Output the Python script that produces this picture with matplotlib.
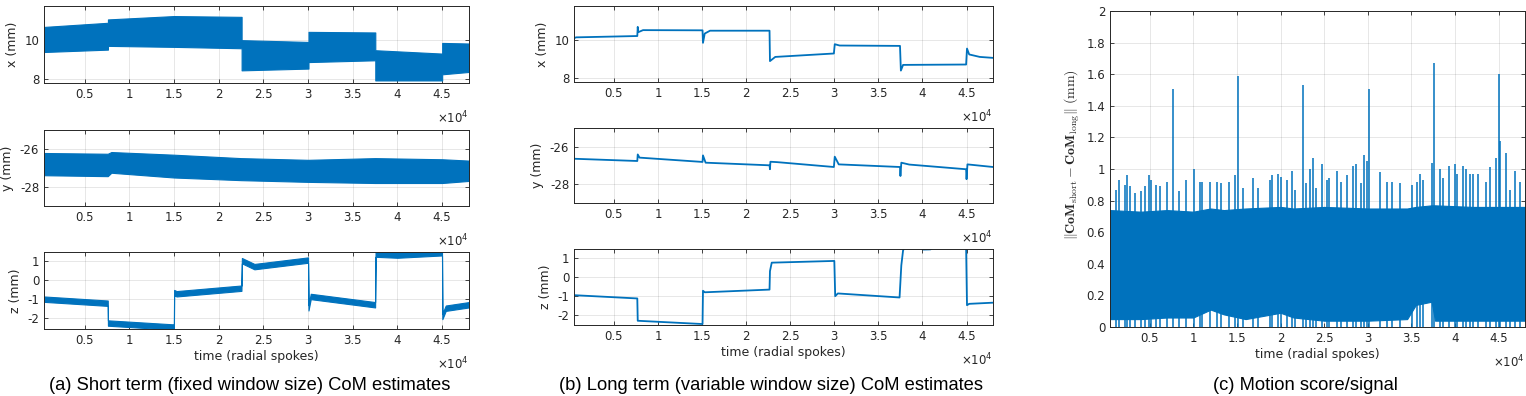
import matplotlib
matplotlib.use('Agg')
import matplotlib.pyplot as plt
from matplotlib.ticker import FuncFormatter

plt.rcParams['font.family'] = 'DejaVu Sans'
plt.rcParams['axes.unicode_minus'] = False

# ---------- data ----------
# (a) short term CoM estimates: noisy bands (upper / lower envelope)
xa_t  = [470, 7620, 7620, 15000, 22570, 22570, 30050, 30050, 37520, 37520, 45000, 45000, 48000]
xa_hi = [10.64, 10.85, 11.02, 11.19, 11.15, 9.97, 9.88, 10.39, 10.36, 9.46, 9.29, 9.83, 9.80]
xa_lo = [9.37, 9.49, 9.68, 9.63, 9.56, 8.44, 8.53, 8.86, 8.95, 7.93, 7.93, 8.24, 8.36]

ya_t  = [470, 7600, 8000, 15000, 22500, 30000, 37500, 45000, 48000]
ya_hi = [-26.21, -26.25, -26.16, -26.30, -26.48, -26.57, -26.48, -26.54, -26.61]
ya_lo = [-27.38, -27.43, -27.25, -27.50, -27.64, -27.73, -27.79, -27.79, -27.68]

za_t   = [470, 7600, 7620, 15000, 15020, 15300, 22550, 22600, 24000, 30000, 30050, 30300,
          37500, 37550, 40000, 44980, 45020, 45400, 48000]
za_mid = [-1.0, -1.21, -2.24, -2.45, -0.66, -0.72, -0.43, 1.0, 0.69, 1.03, -1.45, -0.86,
          -1.29, 1.34, 1.29, 1.41, -1.9, -1.47, -1.29]
za_amp = 0.14

# (b) long term CoM estimates
xb_t = [470, 700, 7650, 7700, 7750, 8300, 15050, 15100, 15300, 15900, 22650, 22700, 23300,
        29950, 30050, 30600, 37450, 37550, 37800, 44950, 45050, 45300, 46500, 48000]
xb_v = [10.10, 10.15, 10.22, 10.70, 10.42, 10.53, 10.52, 9.86, 10.35, 10.50, 10.50, 8.90, 9.12,
        9.30, 9.79, 9.72, 9.70, 8.40, 8.70, 8.72, 9.56, 9.25, 9.12, 9.07]

yb_t = [470, 7650, 7700, 7900, 15050, 15100, 15400, 22650, 22700, 22750, 23500, 29950, 30050,
        30500, 37450, 37500, 37600, 38500, 44950, 45000, 45100, 48000]
yb_v = [-26.64, -26.76, -26.41, -26.58, -26.81, -26.46, -26.85, -26.99, -27.2, -26.8, -26.82,
        -27.08, -26.53, -26.94, -27.08, -27.56, -26.85, -26.95, -27.2, -27.73, -26.94, -27.08]

zb_t = [470, 7650, 7700, 15050, 15100, 15300, 22650, 22700, 22900, 30000, 30100, 30400, 37400,
        37600, 37800, 38200, 39900, 40100, 40900, 41200, 44950, 45050, 45300, 48000]
zb_v = [-0.95, -1.12, -2.28, -2.45, -0.72, -0.80, -0.66, 0.3, 0.74, 0.83, -1.0, -0.86, -1.07,
        0.6, 1.38, 1.7, 1.5, 1.42, 1.43, 1.5, 1.55, -1.47, -1.40, -1.34]

# (c) motion score: dense band plus individual peaks
ms_t  = [470, 4000, 7000, 10000, 12000, 13500, 16000, 20000, 21500, 25000, 30000, 34500,
         35500, 37300, 37700, 42000, 48000]
ms_lo = [0.05, 0.05, 0.06, 0.06, 0.11, 0.08, 0.05, 0.09, 0.06, 0.04, 0.04, 0.05,
         0.14, 0.16, 0.04, 0.04, 0.04]
ms_hi = [0.74, 0.73, 0.74, 0.73, 0.75, 0.74, 0.75, 0.76, 0.75, 0.76, 0.75, 0.75,
         0.76, 0.77, 0.77, 0.76, 0.76]

peak_t = [1150, 1530, 2140, 2410, 2790, 3360, 4010, 4500, 4890, 5190, 5720, 6220, 6980, 7670,
          8320, 9190, 10110, 10800, 11060, 11940, 12700, 13200, 14150, 14800, 15140, 15680,
          16900, 17470, 18800, 19070, 19680, 20060, 20710, 21280, 21660, 22540, 22920, 23380,
          23680, 24070, 24710, 25290, 25550, 26430, 26930, 27650, 28260, 28640, 29210, 29600,
          29860, 30090, 31390, 32150, 32720, 33680, 35010, 35580, 35960, 36340, 37340, 37530,
          38250, 38560, 39280, 39970, 40230, 40920, 41230, 41680, 42060, 42640, 43590, 43970,
          44660, 45000, 45120, 45880, 46260, 46830, 47400]
peak_h = [0.87, 0.93, 0.90, 0.96, 0.89, 0.85, 0.86, 0.89, 0.96, 0.93, 0.90, 0.89, 0.92, 1.505,
          0.86, 0.93, 1.00, 0.92, 0.92, 0.92, 0.92, 0.91, 0.92, 0.96, 1.59, 0.88,
          0.94, 0.88, 0.93, 0.96, 0.97, 0.95, 0.93, 0.99, 0.87, 1.53, 0.91, 1.00,
          1.07, 0.88, 1.03, 0.93, 0.94, 0.99, 0.92, 0.96, 1.02, 1.03, 0.91, 1.09,
          1.05, 1.505, 0.98, 0.92, 0.92, 0.91, 0.90, 0.92, 0.97, 0.93, 1.04, 1.67,
          1.00, 0.94, 1.02, 1.03, 0.97, 1.02, 1.00, 0.97, 0.97, 0.97, 0.92, 1.01,
          1.07, 1.60, 1.18, 1.10, 0.87, 0.99, 0.92]

x_ticks = [5000, 10000, 15000, 20000, 25000, 30000, 35000, 40000, 45000]
captions = ['(a) Short term (fixed window size) CoM estimates',
            '(b) Long term (variable window size) CoM estimates',
            '(c) Motion score/signal']

# ---------- drawing ----------
BLUE = '#0072BD'
INK = '#262626'
W, H = 1526, 396

fig = plt.figure(figsize=(W / 100, H / 100), dpi=100)


def box(l, t, r, b):
    return fig.add_axes([l / W, 1 - b / H, (r - l) / W, (b - t) / H])


def style(ax, ylim, yticks, ylabel, xlabel=None, yfmt=None):
    ax.set_xlim(470, 48000)
    ax.set_ylim(*ylim)
    ax.set_xticks(x_ticks)
    ax.xaxis.set_major_formatter(FuncFormatter(lambda v, p: f'{v / 1e4:g}'))
    ax.set_yticks(yticks)
    if yfmt:
        ax.yaxis.set_major_formatter(FuncFormatter(yfmt))
    ax.set_axisbelow(True)
    ax.grid(True, color=INK, alpha=0.13, lw=0.6)
    ax.tick_params(direction='in', length=3, width=0.6, top=True, right=True,
                   labelsize=8.5, colors=INK)
    for s in ax.spines.values():
        s.set_color(INK)
        s.set_linewidth(0.7)
    if isinstance(ylabel, str):
        ax.set_ylabel(ylabel, fontsize=9, color=INK)
    if xlabel:
        ax.set_xlabel(xlabel, fontsize=9, color=INK, labelpad=2)
    ax.annotate('×10$^4$', xy=(1, 0), xycoords='axes fraction', xytext=(0, -25),
                textcoords='offset points', ha='right', va='center', fontsize=8.5, color=INK)


# column (a)
ax = box(44, 6, 469, 83)
ax.fill_between(xa_t, xa_lo, xa_hi, color=BLUE, lw=0.8, edgecolor=BLUE)
style(ax, (7.8, 11.7), [8, 10], 'x (mm)')

ax = box(44, 130, 469, 206)
ax.fill_between(ya_t, ya_lo, ya_hi, color=BLUE, lw=0.8, edgecolor=BLUE)
style(ax, (-29, -25), [-28, -26], 'y (mm)')

ax = box(44, 252, 469, 329)
ax.fill_between(za_t, [v - za_amp for v in za_mid], [v + za_amp for v in za_mid],
                color=BLUE, lw=0.8, edgecolor=BLUE)
style(ax, (-2.55, 1.45), [-2, -1, 0, 1], 'z (mm)', 'time (radial spokes)')

# column (b)
ax = box(574, 6, 993, 82)
ax.plot(xb_t, xb_v, color=BLUE, lw=1.3)
style(ax, (7.8, 11.8), [8, 10], 'x (mm)')

ax = box(574, 128, 993, 203)
ax.plot(yb_t, yb_v, color=BLUE, lw=1.3)
style(ax, (-29, -25), [-28, -26], 'y (mm)')

ax = box(574, 249, 993, 325)
ax.plot(zb_t, zb_v, color=BLUE, lw=1.3)
style(ax, (-2.5, 1.45), [-2, -1, 0, 1], 'z (mm)', 'time (radial spokes)')

# column (c)
ax = box(1110, 11, 1525, 327)
ax.fill_between(ms_t, ms_lo, ms_hi, color=BLUE, lw=0.8, edgecolor=BLUE)
ax.vlines(peak_t, 0, peak_h, color=BLUE, lw=1.1)
style(ax, (0, 2), [i / 5 for i in range(11)], None, 'time (radial spokes)',
      yfmt=lambda v, p: f'{v:g}')
ax.set_ylabel(r'$\|\mathbf{CoM}_{\mathrm{short}} - \mathbf{CoM}_{\mathrm{long}}\|\ (\mathrm{mm})$',
              fontsize=10, color=INK, math_fontfamily='cm')
ax.yaxis.set_label_coords(-0.068, 0.547)

# captions
for cx, cap in zip([250, 771, 1305], captions):
    fig.text(cx / W, 1 - 385 / H, cap, ha='center', va='center', fontsize=13.2,
             family='Liberation Sans', color='black')

fig.savefig('out.png', dpi=100)
